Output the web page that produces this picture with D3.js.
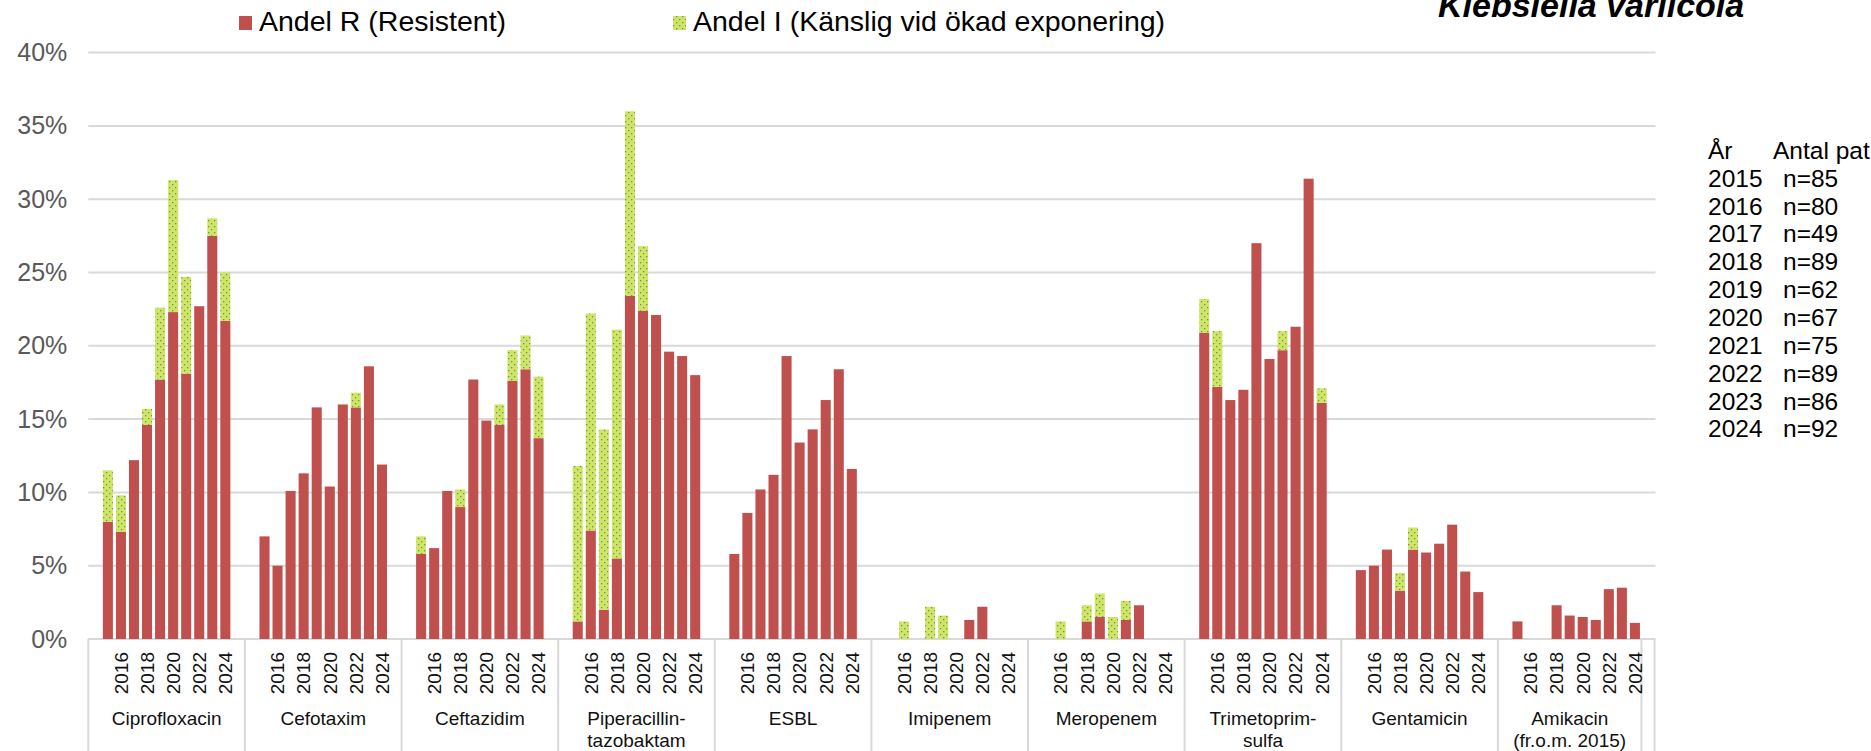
<!DOCTYPE html>
<html><head><meta charset="utf-8">
<script src="https://cdn.jsdelivr.net/npm/d3@7"></script>
<style>
html,body{margin:0;padding:0;background:#fff;}
svg{display:block;font-family:"Liberation Sans",Arial,sans-serif;}
</style></head><body>
<svg id="chart" width="1871" height="751"></svg>
<script>
// ---------- data ----------
const title = "Klebsiella variicola";
const legendLabels = ["Andel R (Resistent)", "Andel I (Känslig vid ökad exponering)"];
const groups = [
  ["Ciprofloxacin"], ["Cefotaxim"], ["Ceftazidim"], ["Piperacillin-", "tazobaktam"], ["ESBL"],
  ["Imipenem"], ["Meropenem"], ["Trimetoprim-", "sulfa"], ["Gentamicin"], ["Amikacin", "(fr.o.m. 2015)"]
];
const years = [2015, 2016, 2017, 2018, 2019, 2020, 2021, 2022, 2023, 2024];
const yearTicks = [2016, 2018, 2020, 2022, 2024];
const yTicks = [0, 5, 10, 15, 20, 25, 30, 35, 40];
// Andel R (%) per group, years 2015..2024
const andelR = [
  [8.0, 7.3, 12.2, 14.6, 17.7, 22.3, 18.1, 22.7, 27.5, 21.7],
  [7.0, 5.0, 10.1, 11.3, 15.8, 10.4, 16.0, 15.8, 18.6, 11.9],
  [5.8, 6.2, 10.1, 9.0, 17.7, 14.9, 14.6, 17.6, 18.4, 13.7],
  [1.2, 7.4, 2.0, 5.5, 23.4, 22.4, 22.1, 19.6, 19.3, 18.0],
  [5.8, 8.6, 10.2, 11.2, 19.3, 13.4, 14.3, 16.3, 18.4, 11.6],
  [0, 0, 0, 0, 0, 0, 1.3, 2.2, 0, 0],
  [0, 0, 0, 1.2, 1.5, 0, 1.3, 2.3, 0, 0],
  [20.9, 17.2, 16.3, 17.0, 27.0, 19.1, 19.7, 21.3, 31.4, 16.1],
  [4.7, 5.0, 6.1, 3.3, 6.1, 5.9, 6.5, 7.8, 4.6, 3.2],
  [1.2, 0, 0, 2.3, 1.6, 1.5, 1.3, 3.4, 3.5, 1.1]
];
// Andel I (%) per group, years 2015..2024
const andelI = [
  [3.5, 2.5, 0, 1.1, 4.9, 9.0, 6.6, 0, 1.2, 3.3],
  [0, 0, 0, 0, 0, 0, 0, 1.0, 0, 0],
  [1.2, 0, 0, 1.2, 0, 0, 1.4, 2.1, 2.3, 4.2],
  [10.6, 14.8, 12.3, 15.6, 12.6, 4.4, 0, 0, 0, 0],
  [0, 0, 0, 0, 0, 0, 0, 0, 0, 0],
  [0, 1.2, 0, 2.2, 1.6, 0, 0, 0, 0, 0],
  [0, 1.2, 0, 1.1, 1.6, 1.5, 1.3, 0, 0, 0],
  [2.3, 3.8, 0, 0, 0, 0, 1.3, 0, 0, 1.0],
  [0, 0, 0, 1.2, 1.5, 0, 0, 0, 0, 0],
  [0, 0, 0, 0, 0, 0, 0, 0, 0, 0]
];
const tableHeader = ["År", "Antal pat"];
const tableYears = ["2015", "2016", "2017", "2018", "2019", "2020", "2021", "2022", "2023", "2024"];
const tableN = ["n=85", "n=80", "n=49", "n=89", "n=62", "n=67", "n=75", "n=89", "n=86", "n=92"];

// ---------- layout ----------
const plotL = 88.3, plotR = 1654.5, yBase = 639, yTop = 52.6;
const slotsPerGroup = 12, nSlots = 120;
const red = "#C0504D", grid = "#D9D9D9";

const svg = d3.select("#chart");
const defs = svg.append("defs");
const pat = defs.append("pattern").attr("id", "dots").attr("width", 6).attr("height", 6)
  .attr("patternUnits", "userSpaceOnUse");
pat.append("rect").attr("width", 6).attr("height", 6).attr("fill", "#CDE85F");
pat.append("rect").attr("x", 1).attr("y", 1).attr("width", 1.3).attr("height", 1.3).attr("fill", "#7E7E96");
pat.append("rect").attr("x", 4).attr("y", 4).attr("width", 1.3).attr("height", 1.3).attr("fill", "#7E7E96");

const x = d3.scaleBand().domain(d3.range(nSlots)).range([plotL, plotR])
  .paddingInner(0.23).paddingOuter(0.115);
const step = x.step();
const y = d3.scaleLinear().domain([0, 40]).range([yBase, yTop]);

// gridlines
svg.append("g").selectAll("line").data(yTicks).join("line")
  .attr("x1", plotL).attr("x2", plotR + 1)
  .attr("y1", d => y(d)).attr("y2", d => y(d))
  .attr("stroke", grid).attr("stroke-width", 2);

// y axis labels
const yAxis = d3.axisLeft(y).tickValues(yTicks).tickSize(0).tickPadding(21).tickFormat(d => d + "%");
const gy = svg.append("g").attr("transform", `translate(${plotL},0)`).call(yAxis);
gy.select(".domain").remove();
gy.selectAll("text").attr("font-size", 25).attr("fill", "#595959")
  .attr("font-family", "'Liberation Sans',Arial,sans-serif");

// bars
const barData = [];
groups.forEach((g, gi) => {
  years.forEach((yr, i) => {
    barData.push({ slot: gi * slotsPerGroup + 1 + i, r: andelR[gi][i], iv: andelI[gi][i] });
  });
});
const gb = svg.append("g");
gb.selectAll("rect.r").data(barData.filter(d => d.r > 0)).join("rect").attr("class", "r")
  .attr("x", d => x(d.slot)).attr("width", x.bandwidth())
  .attr("y", d => y(d.r)).attr("height", d => y(0) - y(d.r))
  .attr("fill", red);
gb.selectAll("rect.i").data(barData.filter(d => d.iv > 0)).join("rect").attr("class", "i")
  .attr("x", d => x(d.slot)).attr("width", x.bandwidth())
  .attr("y", d => y(d.r + d.iv)).attr("height", d => y(d.r) - y(d.r + d.iv))
  .attr("fill", "url(#dots)");

// category separators
const sepSlots = d3.range(0, 109, slotsPerGroup).concat([119, 120]);
svg.append("g").selectAll("line").data(sepSlots).join("line")
  .attr("x1", d => plotL + d * step).attr("x2", d => plotL + d * step)
  .attr("y1", yBase).attr("y2", 751)
  .attr("stroke", grid).attr("stroke-width", 2);

// year tick labels via axis
const tickSlots = [];
groups.forEach((g, gi) => yearTicks.forEach(yr => tickSlots.push(gi * slotsPerGroup + 1 + years.indexOf(yr))));
const xAxis = d3.axisBottom(x).tickValues(tickSlots).tickSize(0)
  .tickFormat(s => String(years[(s % slotsPerGroup) - 1]));
const gx = svg.append("g").attr("transform", `translate(0,${yBase})`).call(xAxis);
gx.select(".domain").remove();
gx.selectAll("text").attr("font-size", 19).attr("fill", "#111")
  .attr("font-family", "'Liberation Sans',Arial,sans-serif")
  .attr("transform", "rotate(-90)").attr("x", -13).attr("y", 0).attr("dy", "0.36em")
  .style("text-anchor", "end");

// group labels
const gl = svg.append("g").attr("font-size", 19).attr("fill", "#111").attr("text-anchor", "middle");
groups.forEach((lines, gi) => {
  const s0 = gi * slotsPerGroup;
  const s1 = gi === groups.length - 1 ? 119 : s0 + slotsPerGroup;
  const cx = plotL + (s0 + s1) / 2 * step;
  lines.forEach((t, li) => {
    gl.append("text").attr("x", cx).attr("y", 725 + li * 21.7).text(t);
  });
});

// legend
const lg = svg.append("g");
lg.append("rect").attr("x", 239).attr("y", 16).attr("width", 13).attr("height", 14).attr("fill", red);
lg.append("text").attr("x", 259).attr("y", 31).attr("font-size", 28.5).attr("fill", "#000").text(legendLabels[0]);
lg.append("rect").attr("x", 673).attr("y", 16).attr("width", 13).attr("height", 14).attr("fill", "url(#dots)");
lg.append("text").attr("x", 693).attr("y", 31).attr("font-size", 28.5).attr("fill", "#000").text(legendLabels[1]);

// title (partly clipped at top)
svg.append("text").attr("x", 1438).attr("y", 17).attr("font-size", 34)
  .attr("font-weight", "bold").attr("font-style", "italic").attr("fill", "#000").text(title);

// table
const tb = svg.append("g").attr("font-size", 24.5).attr("fill", "#000");
tb.append("text").attr("x", 1708).attr("y", 159.3).text(tableHeader[0]);
tb.append("text").attr("x", 1773).attr("y", 159.3).text(tableHeader[1]);
tableYears.forEach((t, i) => {
  tb.append("text").attr("x", 1708).attr("y", 186.7 + i * 27.85).text(t);
  tb.append("text").attr("x", 1783).attr("y", 186.7 + i * 27.85).text(tableN[i]);
});
</script>
</body></html>
